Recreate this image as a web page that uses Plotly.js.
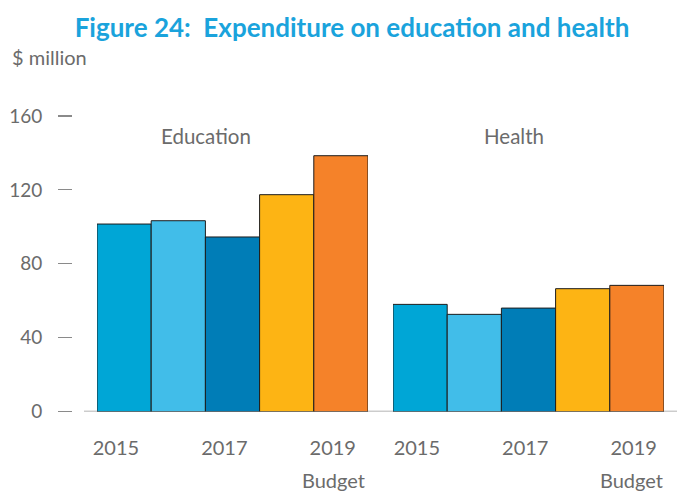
<!DOCTYPE html>
<html>
<head>
<meta charset="utf-8">
<script src="https://cdn.plot.ly/plotly-3.0.1.min.js"></script>
<style>html,body{margin:0;padding:0;background:#fff;}#chart{width:691px;height:491px;}</style>
</head>
<body>
<div id="chart"></div>
<script>
// Data
const years = [2015, 2016, 2017, 2018, 2019];
const education = [101.5, 103.3, 94.5, 117.4, 138.5];
const health = [58.0, 52.6, 56.0, 66.5, 68.3];
const tickYears = [2015, 2017, 2019];
const tickLabels = ["2015", "2017", "2019"];
const groupLabels = ["Education", "Health"];
const yTicks = [0, 40, 80, 120, 160];

// Styles
const barColors = ["#00A6D6", "#41BDE9", "#007DB7", "#FDB414", "#F58229"];
const W = 691, H = 491;
const px = v => v / W;
const gray = "#6b6b6b";
const font = "Lato, 'Open Sans', sans-serif";

const barStyle = {color: barColors, line: {color: "#1c1c1c", width: 1}};
const traces = [
  {type: "bar", x: years, y: education, xaxis: "x", yaxis: "y", marker: barStyle, hoverinfo: "none"},
  {type: "bar", x: years, y: health, xaxis: "x2", yaxis: "y", marker: barStyle, hoverinfo: "none"}
];

const xCommon = {
  range: [2014.5, 2019.5], showgrid: false, zeroline: false, showline: false,
  ticks: "", anchor: "y", tickfont: {family: font, size: 20, color: gray},
  ticklabelstandoff: 22
};

const layout = {
  width: W, height: H,
  margin: {l: 0, r: 0, t: 0, b: 0},
  paper_bgcolor: "#fff", plot_bgcolor: "rgba(0,0,0,0)",
  showlegend: false, bargap: 0,
  font: {family: font, color: gray},
  title: {
    text: "<b>Figure 24:  Expenditure on education and health</b>",
    font: {family: font, size: 26, color: "#1AA3DC"},
    x: 352 / W, xanchor: "center", xref: "paper",
    y: 1 - 28 / H, yanchor: "middle", yref: "paper"
  },
  xaxis: Object.assign({}, xCommon, {
    domain: [px(97), px(368)],
    tickvals: tickYears.map(v => v - 0.15), ticktext: tickLabels
  }),
  xaxis2: Object.assign({}, xCommon, {
    domain: [px(393), px(664)],
    tickvals: tickYears.map(v => v - 0.06), ticktext: tickLabels
  }),
  yaxis: {
    range: [0, 160], domain: [(H - 411.5) / H, (H - 116) / H],
    anchor: "free", position: px(72), side: "left",
    showgrid: false, zeroline: false, showline: false,
    tickvals: yTicks, ticks: "outside", ticklen: 14, tickwidth: 1.2, tickcolor: "#8a8a8a",
    ticklabelstandoff: 12,
    tickfont: {family: font, size: 19, color: gray}
  },
  yaxis2: {
    range: [0, 160], domain: [(H - 411.5) / H, (H - 116) / H],
    overlaying: "y", anchor: "free", position: px(688), side: "right",
    showgrid: false, zeroline: false, showline: false,
    tickvals: yTicks, ticks: "outside", ticklen: 3, tickwidth: 1.5, tickcolor: "#9a9a9a",
    showticklabels: false
  },
  shapes: [
    {type: "line", xref: "paper", yref: "y", x0: px(84), x1: px(677), y0: 0, y1: 0,
     line: {color: "#9a9a9a", width: 1.5}, layer: "below"}
  ],
  annotations: [
    {text: "$ million", xref: "paper", yref: "paper", x: px(10), y: 1 - 57 / H,
     xanchor: "left", yanchor: "middle", showarrow: false,
     font: {family: font, size: 20, color: gray}},
    {text: groupLabels[0], xref: "x", yref: "paper", x: 2016.51, y: 1 - 136 / H,
     xanchor: "center", yanchor: "middle", showarrow: false,
     font: {family: font, size: 20.5, color: gray}},
    {text: groupLabels[1], xref: "x2", yref: "paper", x: 2016.74, y: 1 - 136 / H,
     xanchor: "center", yanchor: "middle", showarrow: false,
     font: {family: font, size: 20.5, color: gray}},
    {text: "Budget", xref: "x", yref: "paper", x: 2019 - 0.13, y: 1 - 480 / H,
     xanchor: "center", yanchor: "middle", showarrow: false,
     font: {family: font, size: 20, color: gray}},
    {text: "Budget", xref: "x2", yref: "paper", x: 2019 - 0.1, y: 1 - 480 / H,
     xanchor: "center", yanchor: "middle", showarrow: false,
     font: {family: font, size: 20, color: gray}}
  ]
};

Plotly.newPlot("chart", traces, layout, {staticPlot: true, displayModeBar: false});
</script>
</body>
</html>
